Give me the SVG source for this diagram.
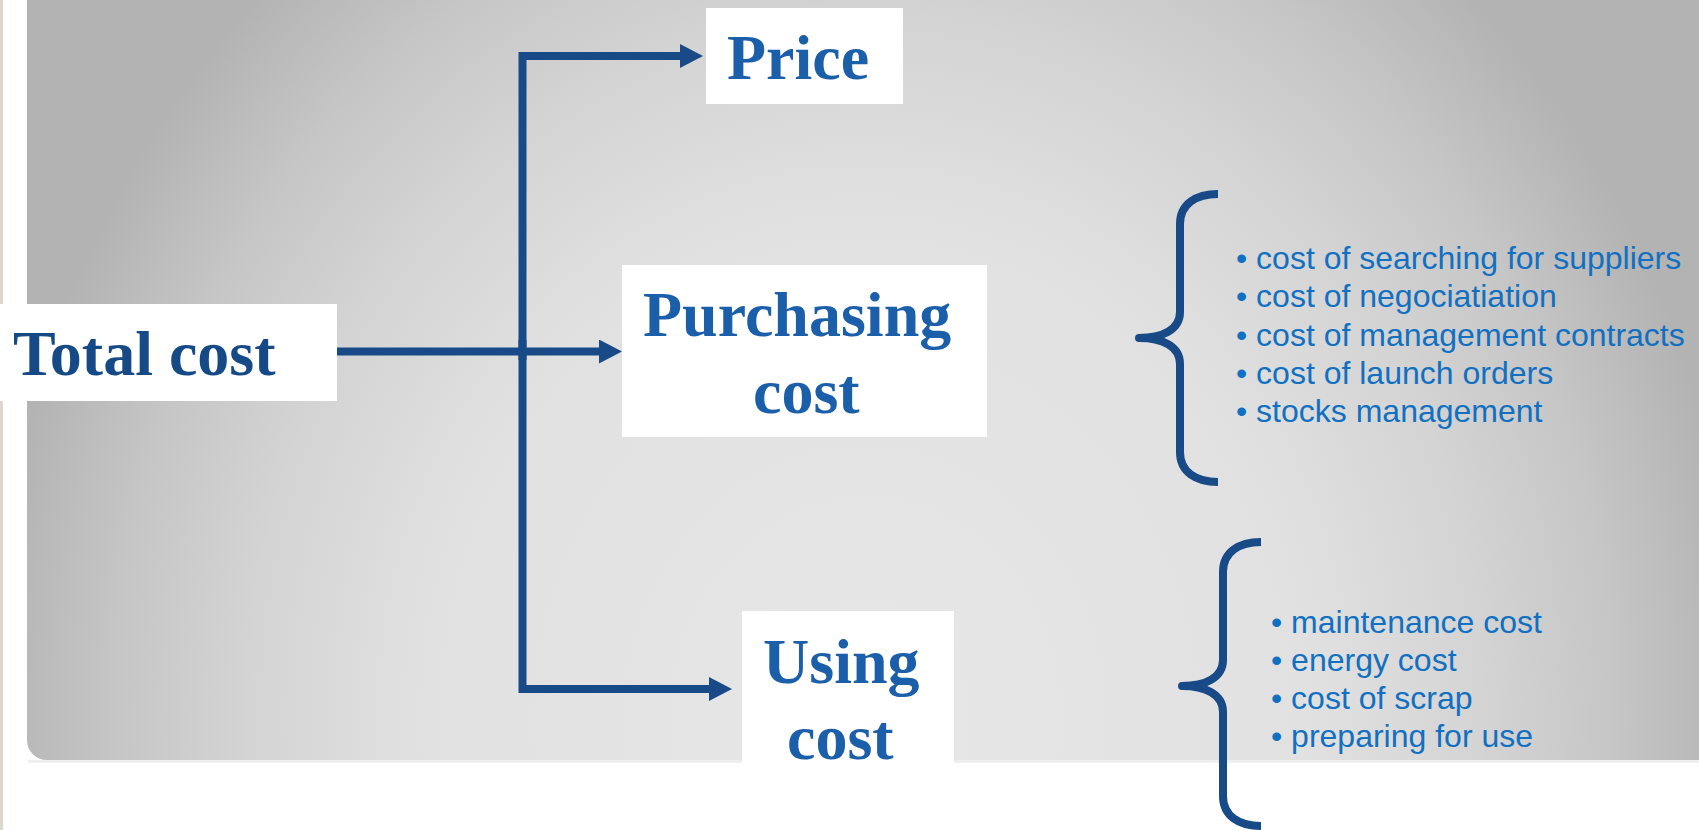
<svg xmlns="http://www.w3.org/2000/svg" width="1699" height="830" viewBox="0 0 1699 830">
  <defs>
    <radialGradient id="bg" gradientUnits="userSpaceOnUse" cx="0" cy="0" r="1" gradientTransform="translate(865,720) scale(880,1000)">
      <stop offset="0" stop-color="#e7e7e7"/>
      <stop offset="0.5" stop-color="#e1e1e1"/>
      <stop offset="0.7" stop-color="#d4d4d4"/>
      <stop offset="0.85" stop-color="#c6c6c6"/>
      <stop offset="1" stop-color="#b3b3b3"/>
    </radialGradient>
    <marker id="arrow" markerUnits="userSpaceOnUse" viewBox="0 0 23 24" markerWidth="23" markerHeight="24" refX="15" refY="12" orient="auto">
      <path d="M0,0 L23,12 L0,24 Z" fill="#174a87"/>
    </marker>
  </defs>
  <style>
    .box { fill: #ffffff; }
    .node { font-family: "Liberation Serif", "Times New Roman", serif; font-weight: bold; font-size: 64px; fill: #1b5faa; }
    .root { fill: #164a87; }
    .conn { fill: none; stroke: #174a87; stroke-width: 8; stroke-linejoin: miter; }
    .brace { fill: none; stroke: #174a87; stroke-width: 8; stroke-linecap: butt; stroke-linejoin: round; }
    .item { font-family: "Liberation Sans", Arial, sans-serif; font-size: 32px; fill: #1170c2; }
  </style>

  <!-- background -->
  <rect x="0" y="0" width="1699" height="830" fill="#ffffff"/>
  <rect x="0" y="0" width="3" height="830" fill="#ddd8cb"/>
  <rect x="28" y="760" width="1671" height="3" fill="#efefef"/>
  <path d="M27,0 H1699 V760 H47 A20,20 0 0 1 27,740 Z" fill="url(#bg)"/>

  <!-- connectors -->
  <g id="connectors">
    <path class="conn" d="M522.5,360 V56 H695" marker-end="url(#arrow)"/>
    <path class="conn" d="M522.5,340 V689 H724" marker-end="url(#arrow)"/>
    <path class="conn" d="M314,351.5 H614" marker-end="url(#arrow)"/>
  </g>

  <g id="node-total">
    <rect class="box" x="0" y="304" width="337" height="97"/>
    <text class="node root" x="13" y="375">Total cost</text>
  </g>

  <g id="node-price">
    <rect class="box" x="706" y="8" width="197" height="96"/>
    <text class="node" x="727" y="79">Price</text>
  </g>

  <g id="node-purchasing">
    <rect class="box" x="622" y="265" width="365" height="172"/>
    <text class="node" x="643" y="336">Purchasing</text>
    <text class="node" x="753" y="413">cost</text>
  </g>

  <g id="node-using">
    <rect class="box" x="742" y="611" width="212" height="160"/>
    <text class="node" x="763" y="683">Using</text>
    <text class="node" x="787" y="759">cost</text>
  </g>

  <g id="purchasing-details">
    <path class="brace" d="M1218,194 C1196,194 1180,204 1180,224 L1180,312 C1180,330 1162,338 1139,338 C1162,338 1180,346 1180,364 L1180,452 C1180,472 1196,482 1218,482"/>
    <text class="item" x="1236" y="269">• cost of searching for suppliers</text>
    <text class="item" x="1236" y="307">• cost of negociatiation</text>
    <text class="item" x="1236" y="346">• cost of management contracts</text>
    <text class="item" x="1236" y="384">• cost of launch orders</text>
    <text class="item" x="1236" y="422">• stocks management</text>
  </g>

  <g id="using-details">
    <path class="brace" d="M1261,542 C1239,542 1223,552 1223,572 L1223,660 C1223,678 1205,686 1182,686 C1205,686 1223,694 1223,712 L1223,796 C1223,816 1239,826 1261,826"/>
    <text class="item" x="1271" y="633">• maintenance cost</text>
    <text class="item" x="1271" y="671">• energy cost</text>
    <text class="item" x="1271" y="709">• cost of scrap</text>
    <text class="item" x="1271" y="747">• preparing for use</text>
  </g>
</svg>
